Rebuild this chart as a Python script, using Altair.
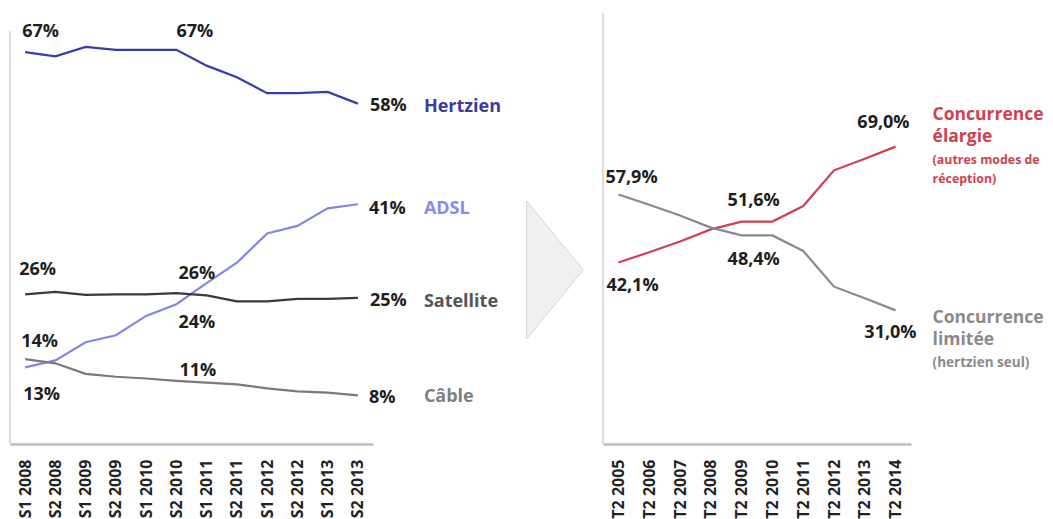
import altair as alt
import pandas as pd

# ---------------- data ----------------
periods_left = ["S1 2008", "S2 2008", "S1 2009", "S2 2009", "S1 2010", "S2 2010",
                "S1 2011", "S2 2011", "S1 2012", "S2 2012", "S1 2013", "S2 2013"]
hertzien = [67.0, 66.3, 67.9, 67.4, 67.4, 67.4, 64.7, 62.7, 60.0, 60.0, 60.2, 58.2]
adsl = [13.1, 14.3, 17.4, 18.6, 21.9, 23.9, 27.5, 31.0, 36.0, 37.3, 40.3, 41.0]
satellite = [25.6, 26.0, 25.5, 25.6, 25.6, 25.8, 25.4, 24.4, 24.4, 24.8, 24.8, 25.0]
cable = [14.5, 13.8, 12.0, 11.5, 11.2, 10.8, 10.5, 10.2, 9.5, 9.0, 8.8, 8.3]

periods_right = ["T2 2005", "T2 2006", "T2 2007", "T2 2008", "T2 2009",
                 "T2 2010", "T2 2011", "T2 2012", "T2 2013", "T2 2014"]
elargie = [42.1, 44.5, 47.0, 49.8, 51.6, 51.6, 55.2, 63.5, 66.2, 69.0]
limitee = [57.9, 55.5, 53.0, 50.2, 48.4, 48.4, 44.8, 36.5, 33.8, 31.0]

left_series = ["Hertzien", "ADSL", "Satellite", "Câble"]
left_colors = ["#3b3bab", "#8585e6", "#3a3a3a", "#7a7a7a"]
left_label_colors = ["#3b3b9e", "#8a8ae8", "#555555", "#7f7f7f"]
right_series = ["Concurrence élargie", "Concurrence limitée"]
right_colors = ["#d2404f", "#8a8a8a"]

# annotation texts (text, period, value, dx, align)
left_value_labels = [
    ("67%", "S1 2008", 70.45, -3, "left"),
    ("67%", "S2 2010", 70.45, 0, "left"),
    ("58%", "S2 2013", 57.8, 12, "left"),
    ("41%", "S2 2013", 40.2, 11, "left"),
    ("26%", "S1 2008", 29.75, -6, "left"),
    ("26%", "S2 2010", 29.07, 2, "left"),
    ("25%", "S2 2013", 24.45, 12, "left"),
    ("24%", "S2 2010", 20.69, 2, "left"),
    ("14%", "S1 2008", 17.44, -4, "left"),
    ("11%", "S2 2010", 12.48, 3, "left"),
    ("13%", "S1 2008", 8.38, -2, "left"),
    ("8%", "S2 2013", 7.87, 11, "left"),
]
left_name_values = [57.6, 40.2, 24.28, 8.04]

right_value_labels = [
    ("57,9%", "T2 2005", 61.7, -13, "left"),
    ("42,1%", "T2 2005", 36.66, -12, "left"),
    ("51,6%", "T2 2009", 56.27, -14, "left"),
    ("48,4%", "T2 2009", 42.69, -14, "left"),
    ("69,0%", "T2 2014", 74.49, 14, "right"),
    ("31,0%", "T2 2014", 25.76, 21, "right"),
]
right_name_lines = [
    ("Concurrence", 76.4, 17.5, "bold", 0),
    ("élargie", 71.3, 17.5, "bold", 0),
    ("(autres modes de", 65.9, 12.4, "bold", 0),
    ("réception)", 61.6, 12.4, "bold", 0),
    ("Concurrence", 29.2, 17.5, "bold", 1),
    ("limitée", 24.1, 17.5, "bold", 1),
    ("(hertzien seul)", 18.7, 13.5, "bold", 1),
]

FONT = "Open Sans"
LEFT_MAX = 73.7
LEFT_AXIS_TOP = 70.6
H = 431


def x_axis():
    return alt.Axis(title=None, labelAngle=270, labelFontSize=16, labelFont=FONT,
                    labelFontWeight="bold", labelColor="#222222", ticks=False,
                    labelPadding=15, domainColor="#bdbdbd", domainWidth=2.5, grid=False)


# ---------------- left panel ----------------
left_rows = []
for name, vals in zip(left_series, [hertzien, adsl, satellite, cable]):
    for p, v in zip(periods_left, vals):
        left_rows.append({"series": name, "period": p, "value": v})
left_df = pd.DataFrame(left_rows)

x_left = alt.X("period:O", scale=alt.Scale(domain=periods_left, type="point", padding=0.5),
               axis=x_axis())
y_left = alt.Y("value:Q", scale=alt.Scale(domain=[0, LEFT_MAX], nice=False), axis=None)

left_layers = []
left_layers.append(
    alt.Chart(pd.DataFrame({"v0": [0.0], "v1": [LEFT_AXIS_TOP]})).mark_rule(
        color="#dcdcdc", strokeWidth=2).encode(
        x=alt.value(0), y=alt.Y("v0:Q", scale=alt.Scale(domain=[0, LEFT_MAX], nice=False), axis=None),
        y2="v1:Q")
)
left_layers.append(
    alt.Chart(left_df).mark_line(strokeWidth=2.2).encode(
        x=x_left, y=y_left,
        color=alt.Color("series:N", scale=alt.Scale(domain=left_series, range=left_colors), legend=None),
        detail="series:N")
)
for txt, per, val, dx, al in left_value_labels:
    left_layers.append(
        alt.Chart(pd.DataFrame({"period": [per], "value": [val], "t": [txt]})).mark_text(
            align=al, baseline="middle", dx=dx, font=FONT, fontSize=18, fontWeight="bold",
            color="#1e1e1e").encode(x=x_left, y=y_left, text="t:N")
    )
for name, val, col in zip(left_series, left_name_values, left_label_colors):
    left_layers.append(
        alt.Chart(pd.DataFrame({"period": [periods_left[-1]], "value": [val], "t": [name]})).mark_text(
            align="left", baseline="middle", dx=66, font=FONT, fontSize=18, fontWeight="bold",
            color=col).encode(x=x_left, y=y_left, text="t:N")
    )

left = alt.layer(*left_layers).properties(width=363, height=H)

# ---------------- right panel ----------------
right_rows = []
for name, vals in zip(right_series, [elargie, limitee]):
    for p, v in zip(periods_right, vals):
        right_rows.append({"series": name, "period": p, "value": v})
right_df = pd.DataFrame(right_rows)

x_right = alt.X("period:O", scale=alt.Scale(domain=periods_right, type="point", padding=0.5),
                axis=x_axis())
y_right = alt.Y("value:Q", scale=alt.Scale(domain=[0, 100], nice=False), axis=None)

arrow_path = "M -0.41 -1 L 0.41 0 L -0.41 1 Z"
right_layers = []
right_layers.append(
    alt.Chart(pd.DataFrame({"a": [0]})).mark_point(
        shape=arrow_path, size=19044, filled=True, fill="#f0f0f0", stroke="#d6d6d6",
        strokeWidth=1, opacity=1).encode(x=alt.value(-48), y=alt.value(257))
)
right_layers.append(
    alt.Chart(pd.DataFrame({"v0": [0.0], "v1": [100.0]})).mark_rule(
        color="#dcdcdc", strokeWidth=2).encode(
        x=alt.value(0), y=alt.Y("v0:Q", scale=alt.Scale(domain=[0, 100], nice=False), axis=None),
        y2="v1:Q")
)
right_layers.append(
    alt.Chart(right_df).mark_line(strokeWidth=2.2).encode(
        x=x_right, y=y_right,
        color=alt.Color("series:N", scale=alt.Scale(domain=right_series, range=right_colors), legend=None),
        detail="series:N")
)
for txt, per, val, dx, al in right_value_labels:
    right_layers.append(
        alt.Chart(pd.DataFrame({"period": [per], "value": [val], "t": [txt]})).mark_text(
            align=al, baseline="middle", dx=dx, font=FONT, fontSize=18, fontWeight="bold",
            color="#1e1e1e").encode(x=x_right, y=y_right, text="t:N")
    )
for txt, val, fs, fw, si in right_name_lines:
    right_layers.append(
        alt.Chart(pd.DataFrame({"period": [periods_right[-1]], "value": [val], "t": [txt]})).mark_text(
            align="left", baseline="middle", dx=37, font=FONT, fontSize=fs, fontWeight=fw,
            color=right_colors[si], limit=113, ellipsis="\u200b").encode(x=x_right, y=y_right, text="t:N")
    )

right = alt.layer(*right_layers).properties(width=308, height=H)

chart = alt.hconcat(left, right, spacing=230, bounds="flush").resolve_scale(
    x="independent", y="independent", color="independent"
).properties(
    padding={"left": 1, "top": 4, "right": 0, "bottom": 0},
    background="white"
).configure_view(strokeWidth=0, stroke="transparent")

chart.save("out.html", embed_options={"renderer": "svg", "actions": False})
